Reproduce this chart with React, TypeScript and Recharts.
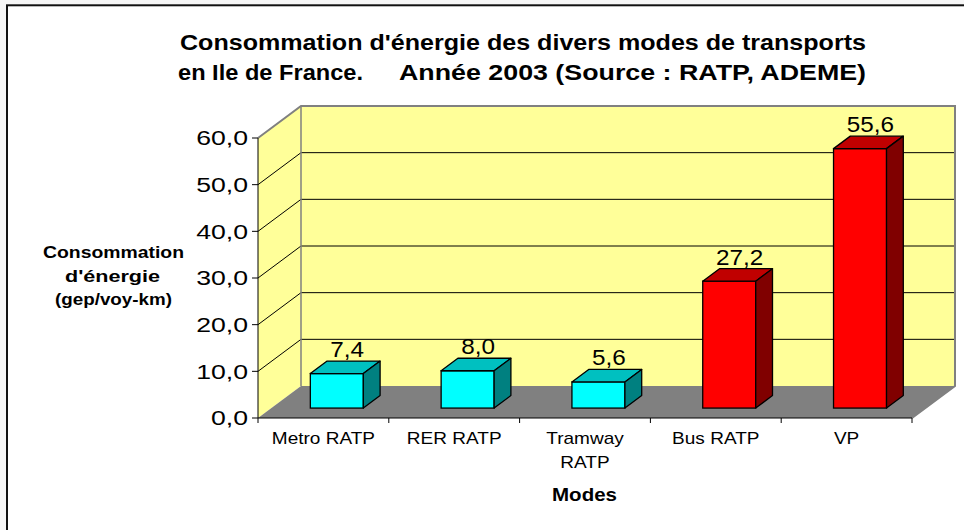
import React from 'react';
import { BarChart, Bar, XAxis, YAxis, ReferenceArea, Cell } from 'recharts';

const CATEGORIES = ['Metro RATP', 'RER RATP', 'Tramway RATP', 'Bus RATP', 'VP'];
const X_TICK_LABELS = ['Metro RATP', 'RER RATP', 'Tramway\nRATP', 'Bus RATP', 'VP'];
const VALUES = [7.4, 8.0, 5.6, 27.2, 55.6];
const Y_TICKS = [0, 10, 20, 30, 40, 50, 60];
const TITLE_LINE_1 = "Consommation d'énergie des divers modes de transports";
const TITLE_LINE_2A = 'en Ile de France.';
const TITLE_LINE_2B = 'Année 2003 (Source : RATP, ADEME)';
const Y_LABEL = ['Consommation', "d'énergie", '(gep/voy-km)'];
const X_LABEL = 'Modes';

const data = CATEGORIES.map((name, i) => ({ name, value: VALUES[i] }));

// styles
const FONT = '"Liberation Sans", Arial, Helvetica, sans-serif';
const BAR_FILLS = ['#00FFFF', '#00FFFF', '#00FFFF', '#FF0000', '#FF0000'];
const SHADES: Record<string, { top: string; side: string }> = {
  '#00FFFF': { top: '#00C0C0', side: '#008080' },
  '#FF0000': { top: '#C00000', side: '#800000' },
};
const DX = 43;
const DY = 32;
const FRONT = 0.31;
const DEPTH = 0.39;
const WALL = '#FFFF99';
const FLOOR = '#808080';
const EDGE = '#808080';

const fmt = (v: number) => v.toFixed(1).replace('.', ',');

const Walls = (props: any) => {
  const { x, y, width: w, height: h } = props;
  const yMax = Y_TICKS[Y_TICKS.length - 1];
  const toY = (v: number) => y + h - (v / yMax) * h;
  const b = y + h;
  return (
    <g>
      <polygon points={`${x},${b} ${x},${y} ${x + DX},${y - DY} ${x + DX},${b - DY}`} fill={WALL} stroke="none" />
      <rect x={x + DX} y={y - DY} width={w} height={h} fill={WALL} stroke="none" />
      <polygon points={`${x},${b} ${x + w},${b} ${x + w + DX},${b - DY} ${x + DX},${b - DY}`} fill={FLOOR} stroke="none" />
      {Y_TICKS.filter((v) => v > 0 && v < yMax).map((v) => {
        const yy = toY(v);
        return (
          <polyline key={v} points={`${x},${yy} ${x + DX},${yy - DY} ${x + w + DX},${yy - DY}`} fill="none" stroke="#000" strokeWidth={1} />
        );
      })}
      <polyline points={`${x},${y} ${x + DX},${y - DY} ${x + w + DX},${y - DY} ${x + w + DX},${b - DY} ${x + w},${b}`} fill="none" stroke={EDGE} strokeWidth={2} />
      <line x1={x + DX} y1={y - DY} x2={x + DX} y2={b - DY} stroke={EDGE} strokeWidth={1.5} />
    </g>
  );
};

const Bar3D = (props: any) => {
  const { x, y, width, height, fill, payload } = props;
  if (x == null || height == null) return null;
  const fx = x + DX * FRONT;
  const fy = y - DY * FRONT;
  const dx = DX * DEPTH;
  const dy = DY * DEPTH;
  const shade = SHADES[fill] || { top: fill, side: fill };
  const lx = fx + width / 2 + dx / 2 + 2;
  const ly = fy - dy - 4;
  return (
    <g>
      <rect x={fx} y={fy} width={width} height={height} fill={fill} stroke="#000" strokeWidth={1.3} />
      <polygon points={`${fx},${fy} ${fx + width},${fy} ${fx + width + dx},${fy - dy} ${fx + dx},${fy - dy}`} fill={shade.top} stroke="#000" strokeWidth={1.3} strokeLinejoin="round" />
      <polygon points={`${fx + width},${fy} ${fx + width},${fy + height} ${fx + width + dx},${fy + height - dy} ${fx + width + dx},${fy - dy}`} fill={shade.side} stroke="#000" strokeWidth={1.3} strokeLinejoin="round" />
      <g transform={`translate(${lx},${ly}) scale(1.13,1)`}>
        <text x={0} y={0} textAnchor="middle" fontSize={21.5} fontFamily={FONT} fill="#000">{fmt(payload.value)}</text>
      </g>
    </g>
  );
};

const YTick = (props: any) => {
  const { x, y, payload } = props;
  return (
    <g transform={`translate(${x},${y}) scale(1.3,1)`}>
      <text x={0} y={0} dy="0.36em" textAnchor="end" fontSize={20.5} fontFamily={FONT} fill="#000">{fmt(payload.value)}</text>
    </g>
  );
};

const XTick = (props: any) => {
  const { x, y, payload } = props;
  const idx = CATEGORIES.indexOf(payload.value);
  const half = payload.offset && payload.offset > 0 ? payload.offset : (props.width ?? 654) / CATEGORIES.length / 2;
  const lines = (X_TICK_LABELS[idx] ?? String(payload.value)).split('\n');
  return (
    <g>
      <line x1={x - half} y1={y} x2={x - half} y2={y + 5} stroke="#000" strokeWidth={1} />
      {idx === CATEGORIES.length - 1 && <line x1={x + half} y1={y} x2={x + half} y2={y + 5} stroke="#000" strokeWidth={1} />}
      {lines.map((l, i) => (
        <g key={i} transform={`translate(${x},${y + 26 + i * 24}) scale(1.12,1)`}>
          <text x={0} y={0} textAnchor="middle" fontSize={17} fontFamily={FONT} fill="#000">{l}</text>
        </g>
      ))}
    </g>
  );
};

export default function App() {
  return (
    <div style={{ position: 'absolute', left: 0, top: 0, width: 964, height: 530 }}>
      <svg width={964} height={530} style={{ position: 'absolute', left: 0, top: 0 }}>
        <rect x={0} y={0} width={964} height={530} fill="#F6F6F6" />
        <rect x={7} y={5.3} width={970} height={540} fill="#FFFFFF" stroke="#111" strokeWidth={2} />
        <g fontFamily={FONT} fontWeight="bold" fill="#000">
          <text x={180} y={50} fontSize={22.5} textLength={686} lengthAdjust="spacingAndGlyphs">{TITLE_LINE_1}</text>
          <text x={178} y={80} fontSize={22.5} textLength={185} lengthAdjust="spacingAndGlyphs">{TITLE_LINE_2A}</text>
          <text x={399} y={80} fontSize={22.5} textLength={467} lengthAdjust="spacingAndGlyphs">{TITLE_LINE_2B}</text>
          <text x={43} y={258} fontSize={16} textLength={141} lengthAdjust="spacingAndGlyphs">{Y_LABEL[0]}</text>
          <text x={65} y={282} fontSize={16} textLength={95} lengthAdjust="spacingAndGlyphs">{Y_LABEL[1]}</text>
          <text x={55} y={305} fontSize={16} textLength={117} lengthAdjust="spacingAndGlyphs">{Y_LABEL[2]}</text>
          <text x={552} y={501} fontSize={18} textLength={65} lengthAdjust="spacingAndGlyphs">{X_LABEL}</text>
        </g>
      </svg>
      <div style={{ position: 'absolute', left: 0, top: 0 }}>
        <BarChart width={964} height={530} data={data} margin={{ top: 138, right: 52, bottom: 0, left: 0 }} barSize={53}>
          <ReferenceArea y1={0} y2={60} shape={Walls} ifOverflow="visible" />
          <XAxis
            dataKey="name"
            height={112}
            interval={0}
            tickSize={0}
            tickMargin={0}
            tickLine={false}
            axisLine={{ stroke: '#000', strokeWidth: 1 }}
            tick={XTick}
          />
          <YAxis
            type="number"
            domain={[0, 60]}
            ticks={Y_TICKS}
            interval={0}
            width={258}
            tickSize={6}
            tickMargin={4}
            tickLine={{ stroke: '#000' }}
            axisLine={{ stroke: '#000', strokeWidth: 1 }}
            tick={YTick}
          />
          <Bar dataKey="value" isAnimationActive={false} shape={Bar3D}>
            {data.map((d, i) => (
              <Cell key={d.name} fill={BAR_FILLS[i]} />
            ))}
          </Bar>
        </BarChart>
      </div>
    </div>
  );
}
